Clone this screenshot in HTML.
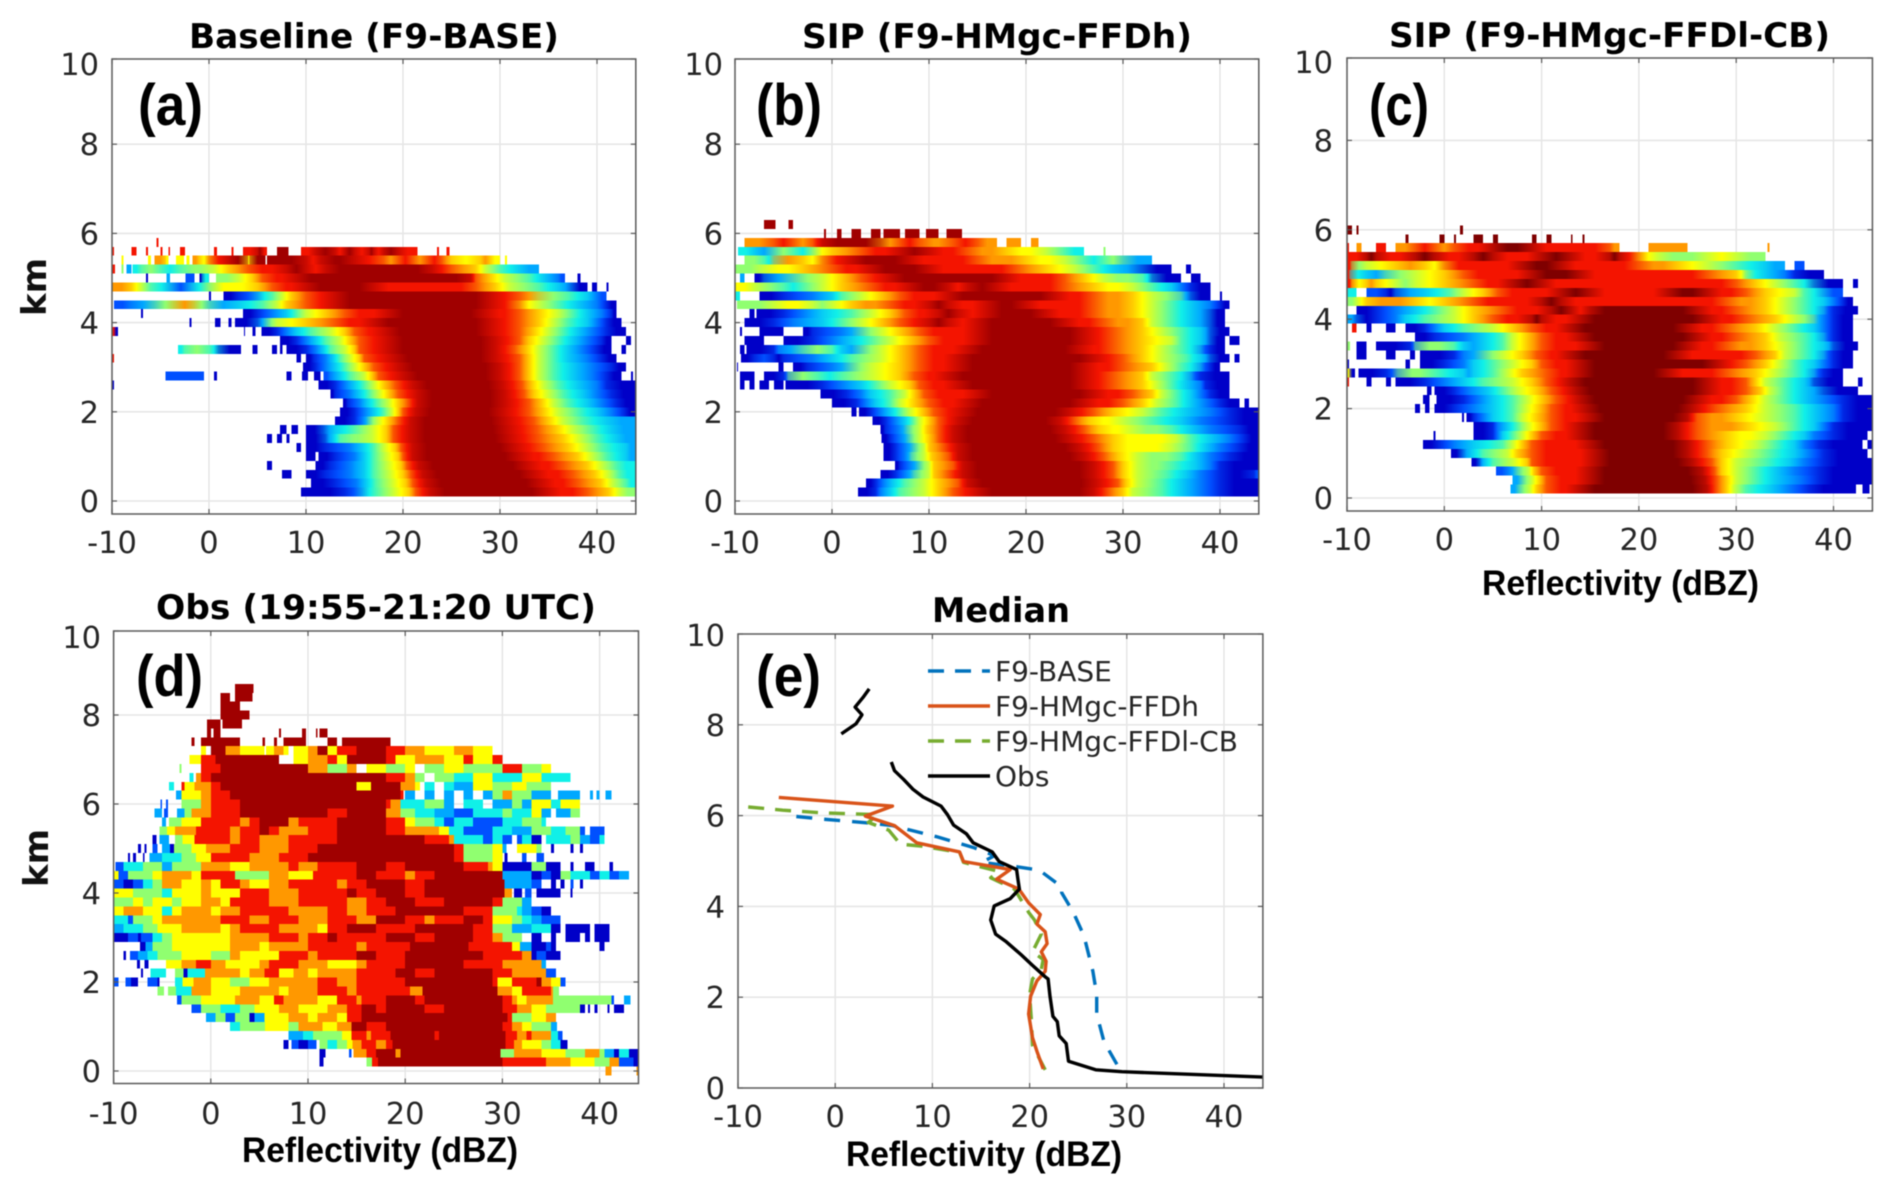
<!DOCTYPE html>
<html lang="en">
<head>
<meta charset="utf-8">
<title>Reflectivity CFADs</title>
<style>
html,body{margin:0;padding:0;background:#fff;}
#figure{display:block;width:1892px;height:1193px;filter:blur(0.6px);}
.tick{font-family:"DejaVu Sans","Liberation Sans",sans-serif;font-size:30.5px;fill:#262626;}
.title{font-family:"DejaVu Sans","Liberation Sans",sans-serif;font-weight:bold;font-size:34px;fill:#000;}
.xlabel{font-family:"Liberation Sans",sans-serif;font-weight:bold;font-size:35px;fill:#000;}
.ylabel{font-family:"DejaVu Sans","Liberation Sans",sans-serif;font-weight:bold;font-size:34px;fill:#111;}
.tag{font-family:"Liberation Sans",sans-serif;font-weight:bold;font-size:58px;fill:#000;}
.legend{font-family:"DejaVu Sans","Liberation Sans",sans-serif;font-size:28px;fill:#262626;}
</style>
</head>
<body>
<svg id="figure" xmlns="http://www.w3.org/2000/svg" width="1892" height="1193" viewBox="0 0 1892 1193">
  <defs id="gradients"></defs>
  <g id="layer-a"></g>
  <g id="layer-b"></g>
  <g id="layer-c"></g>
  <g id="layer-d"></g>
  <g id="layer-e"></g>

  <text class="title" x="189" y="48" textLength="370" lengthAdjust="spacingAndGlyphs">Baseline (F9-BASE)</text>
  <text class="title" x="802" y="48" textLength="390" lengthAdjust="spacingAndGlyphs">SIP (F9-HMgc-FFDh)</text>
  <text class="title" x="1389" y="47" textLength="441" lengthAdjust="spacingAndGlyphs">SIP (F9-HMgc-FFDl-CB)</text>
  <text class="title" x="156" y="619" textLength="440" lengthAdjust="spacingAndGlyphs">Obs (19:55-21:20 UTC)</text>
  <text class="title" x="932" y="622" textLength="138" lengthAdjust="spacingAndGlyphs">Median</text>

  <text class="tag" x="138" y="125" textLength="65" lengthAdjust="spacingAndGlyphs">(a)</text>
  <text class="tag" x="756" y="125" textLength="66" lengthAdjust="spacingAndGlyphs">(b)</text>
  <text class="tag" x="1369" y="125" textLength="60" lengthAdjust="spacingAndGlyphs">(c)</text>
  <text class="tag" x="136" y="696" textLength="67" lengthAdjust="spacingAndGlyphs">(d)</text>
  <text class="tag" x="756" y="696" textLength="65" lengthAdjust="spacingAndGlyphs">(e)</text>

  <text class="ylabel" transform="translate(46,316) rotate(-90)" textLength="58" lengthAdjust="spacingAndGlyphs">km</text>
  <text class="ylabel" transform="translate(48,887) rotate(-90)" textLength="58" lengthAdjust="spacingAndGlyphs">km</text>

  <text class="xlabel" x="1482" y="595" textLength="277" lengthAdjust="spacingAndGlyphs">Reflectivity (dBZ)</text>
  <text class="xlabel" x="242" y="1162" textLength="276" lengthAdjust="spacingAndGlyphs">Reflectivity (dBZ)</text>
  <text class="xlabel" x="846" y="1166" textLength="276" lengthAdjust="spacingAndGlyphs">Reflectivity (dBZ)</text>

  <g>
    <line x1="928" y1="671" x2="990" y2="671" stroke="#0072BD" stroke-width="3.4" stroke-dasharray="16 11"/>
    <text class="legend" x="995" y="681">F9-BASE</text>
    <line x1="928" y1="706" x2="990" y2="706" stroke="#D95319" stroke-width="3.4"/>
    <text class="legend" x="995" y="716">F9-HMgc-FFDh</text>
    <line x1="928" y1="741" x2="990" y2="741" stroke="#77AC30" stroke-width="3.4" stroke-dasharray="16 11"/>
    <text class="legend" x="995" y="751">F9-HMgc-FFDl-CB</text>
    <line x1="928" y1="776" x2="990" y2="776" stroke="#000" stroke-width="3.4"/>
    <text class="legend" x="995" y="786">Obs</text>
  </g>
</svg>
<script>
const xTicks = [-10, 0, 10, 20, 30, 40];
const yTicks = [0, 2, 4, 6, 8, 10];
const rowKm = [0,0.2,0.4,0.6,0.8,1,1.2,1.4,1.6,1.8,2,2.2,2.4,2.6,2.8,3,3.2,3.4,3.6,3.8,4,4.2,4.4,4.6,4.8,5,5.2,5.4,5.6,5.8,6,6.2,6.4,6.6,6.8,7,7.2,7.4,7.6,7.8,8,8.2,8.4,8.6];

/* Each row: start dBZ, colour level, start dBZ, colour level, ... final end dBZ. Level 0 = empty. */
const baselineRows = [
[],
[9.5,1,14,2,15.8,4,17.3,5,19,6,20.6,7,21.3,8,22.8,9,34.8,8,39,7,41.2,6,42.4,5,44],
[10.5,1,13,2,15.2,3,16.2,4,17.2,5,18.8,6,20.3,7,21,8,22.4,9,34.2,8,38,7,40.4,6,41.6,5,43,4,44],
[7.5,1,8.5,0,10,1,12,2,14.5,3,16,4,17,5,18.6,6,20,7,20.8,8,22,9,33.5,8,37.5,7,39.8,6,41.2,5,42.3,4,44],
[6,1,6.5,0,11,1,12.5,2,14.5,3,16,4,17,5,18.4,6,19.8,7,20.4,8,21.6,9,32.8,8,36.5,7,39,6,40.5,5,42,4,44],
[10,1,11,0,11.3,1,13,2,15,3,16,4,17,5,18.2,6,19.5,7,20,8,21,9,32,8,35.5,7,38,6,39.5,5,41,4,43,3,44],
[9,1,9.5,0,10,1,12,2,14.5,3,15.8,4,17,5,18,6,19.2,7,19.8,8,21,9,31.5,8,34.5,7,37,6,38.8,5,40.5,4,43,3,44],
[6,1,6.5,0,7,1,7.5,0,8,1,8.3,0,10,1,12,3,12.8,4,13.5,5,16.8,6,18.3,7,19,8,20.8,9,31,8,34,7,36.5,6,38.3,5,40,4,42,3,44],
[7.3,1,8,0,8.5,1,9.2,0,10,1,11.8,3,13,4,15,5,16.8,6,18.3,7,19,8,20.8,9,30.8,8,33.8,7,35.8,6,37.5,5,39.5,4,41.5,3,44],
[13,1,15,2,15.8,3,16.5,5,17.4,6,18.5,7,19.5,8,20.8,9,30.6,8,33.5,7,35,6,36.5,5,38.5,4,41,3,44],
[13.5,1,15,2,16,3,17,4,18,5,18.8,6,19.5,7,20,8,21.3,9,30.3,8,33,7,34.5,6,36,5,38,4,40,3,41.5,2,42.8,1,44],
[13.8,1,14.3,2,15.5,3,16.3,4,17.3,5,18.5,6,19.5,7,20.5,8,21.5,9,30.5,8,33,7,34.3,6,35.5,5,37,4,39,3,40.5,2,42,1,44],
[12.5,1,13,2,14.5,3,15.5,4,16.5,5,17.5,6,18.5,7,19.5,8,21.5,9,30.5,8,32.5,7,33.5,6,35,5,36.5,4,38.5,3,40,2,41.5,1,44],
[-10,1,-9.8,0,11.3,1,13,2,14,3,15,4,16,5,17,6,18,7,19.2,8,21,9,30.3,8,32.3,7,33.3,6,34.5,5,36,4,38,3,40,2,41,1,44],
[-4.5,2,-0.5,0,0.5,1,0.8,0,8,1,8.5,0,9.6,1,10.2,0,10.8,1,11.5,0,11.8,2,12.5,3,13.5,4,14.5,5,16,6,16.8,7,17.5,8,20,9,30,8,32,7,33,6,34,5,35.5,4,37.5,3,39.5,2,41,1,42.5,0,43.5,1,43.7,0],
[9.7,1,11,2,12,3,13,4,14,5,15,6,16,7,17,8,19.5,9,30,8,32,7,33,6,34,5,35.5,4,37.5,3,39.5,2,41.5,1,43,0],
[-10,8,-9.8,0,9,1,9.5,0,10,1,10.8,2,12,3,12.8,4,13.5,5,14.5,6,15.5,7,16,8,19,9,29.5,8,32,7,33,6,34,5,35.5,4,37,3,39,2,40.5,1,42,0],
[-3.2,4,-2.5,5,0,4,1,1,3.3,0,4.5,1,5,0,6.5,1,7,0,7.3,1,7.6,0,8,1,10,2,11,3,11.8,4,12.5,5,14,6,15,7,15.5,8,18.5,9,29.5,8,31.5,7,32.8,6,34,5,35.5,4,37,3,38.5,2,40,1,41.5,0,42.5,1,43,0],
[7.3,1,9,2,10,3,11,4,12,5,13.5,6,14.5,7,15.5,8,18.5,9,29.5,8,32,7,33,6,34.5,5,36,4,37.5,3,39,2,40.5,1,41.5,0,43,1,43.5,0],
[-10,8,-9.7,1,-9.4,0,3.6,1,3.7,0,4.5,1,4.8,0,5.4,1,7,2,8,3,9,4,10.5,5,12.5,6,14,7,15,8,18.2,9,29,8,32,7,33.5,6,35,5,36.5,4,38,3,39.5,2,41,1,43,0],
[-2,1,-1.8,0,0.6,1,1.2,0,2,1,2.3,0,2.7,1,5,3,6,5,7,6,10,7,13,8,17,9,29,8,32,7,34,6,35.5,5,37,4,39,3,40,2,41,1,42.5,0],
[-7,1,-6.8,0,3.5,1,5,2,6.5,3,8,4,9,5,10,6,12,7,14,8,18.5,9,28.5,8,32,7,34,6,36,5,37.5,4,39,3,40.5,2,41.5,1,42,0],
[-9.8,2,-8,3,-5.5,5,-3.5,7,-1.5,5,0,3,3,4,5.5,5,7,6,8,7,10,8,13,9,29,8,32,6,34,5,36,4,38,3,40,2,41,1,42,0],
[0,1,0.2,0,1.5,1,3,2,5,4,6.5,5,7.5,6,8.5,7,10,8,13,9,29,8,32,7,34,5,37,4,39,3,40,2,41,0],
[-10,7,-8,6,-7,5,-6,4,-3.8,2,-2,4,0,6,5,7,6.5,8,10,9,17,8,27.5,7,29.5,6,31,5,34,4,36,3,37.5,1,39,0,39.5,1,40,0,41,1,41.2,0],
[-6.5,1,-6.3,0,-4.4,3,-4,0,-2.4,2,-1.5,0,-1,1,-0.7,4,0,0,0.7,5,3,6,4.5,7,5.5,8,9,9,27,8,27.5,7,29,6,30.5,5,33,4,34.5,3,36,2,36.7,0,38,1,38.3,0],
[-10,8,-9.7,0,-9,5,-8.8,0,-8.5,3,-8,0,-7.9,4,-7,5,-5,4,-3,5,0.5,6,2,7,4,8,8,9,10,8,12,9,23,8,25,7,27.5,6,28.5,5,30,4,32,3,34,0],
[-9,6,-8.8,0,-6.3,6,-6,0,-5.6,7,-4.5,6,-4.2,0,-3.4,6,-2.6,0,-2.3,6,-2,0,-1.7,7,-1,6,0,8,2,9,4,6,4.2,9,5.8,0,6,9,10,8,11.5,9,15,8,18,7,19.5,8,21,7,22.5,8,24,7,25,6,28,7,29,6,30,0,30.5,6,30.7,0],
[-10,8,-9.8,0,-8,8,-7.5,0,-6.5,8,-6.3,0,-5,8,-4.8,0,-4.2,8,-4,0,-3,8,-2.5,0,0.5,8,0.8,0,2.3,8,2.5,0,3.5,8,5,9,5.5,8,6,0,7,9,8.2,0,9.5,8,11,9,13,8,14,9,15,8,16.5,9,17,8,18,9,19.5,8,21.5,0,23.5,8,23.7,0,24.5,8,24.8,0],
[-5.4,8,-5.2,0]
];

const ffdhRows = [
[],
[2.7,1,4.5,2,5,3,6,4,7,5,9.5,6,11,7,12.5,8,15,9,27,8,28.5,7,30,6,31,5,34,4,36,3,38,2,40,1,44],
[3.5,1,4.5,2,5.3,3,6.3,4,7.5,5,9.5,6,11,7,13,8,14,9,27.2,8,29.5,7,30.3,6,31.5,5,34,4,36,3,38,2,40,1,44],
[5,1,6.5,2,7.5,3,8.5,5,10,6,10.5,7,12,8,13.5,9,27,8,29,7,30,6,31.5,5,34.5,4,36.5,3,38,2,40,1,43.5,2,44],
[6.5,1,7,2,8,3,9,5,10,6,10.5,7,12.5,8,13.5,9,27,8,29,7,30,6,31.5,5,35,4,37.5,3,39,2,40,1,44],
[5.3,1,6.5,2,7.5,3,8.2,5,9.5,6,10.3,7,12,8,13,9,26,8,28,7,29.5,6,31.5,5,36,4,37.5,3,39,2,41,1,44],
[5.3,1,6.5,2,7.5,3,8.5,5,9.5,6,10,7,11.5,8,13,9,25.5,8,27.5,7,29,6,35,5,37,4,38.5,3,40,2,42,1,44],
[5.1,1,6,2,7,3,8,5,9,6,10,7,11,8,12.5,9,24.5,8,27,7,29,6,35.5,5,37,4,39,3,41,2,42.5,1,44],
[5,1,5.5,2,6.8,3,7.8,5,9,6,9.8,7,11,8,12.5,9,24,8,26,7,27.5,6,31,5,35,4,37,3,39,2,42,1,44],
[4.2,1,5.5,2,6.5,3,7.5,4,8.3,5,9,6,10,7,11,8,13,9,23.5,8,25,7,26.5,6,30,5,33,4,36,3,38,2,41,1,44],
[2,1,2.5,0,2.8,1,4,2,5,3,6,4,7,5,8,6,9.3,7,10.5,8,13.5,9,24.5,8,27,7,29,6,32,5,34,4,36.5,3,39,2,41,1,44],
[0,1,2.5,2,3.5,3,4.5,4,6,5,7,6,8.5,7,10,8,14,9,26,8,30,7,32,6,33.5,5,35.5,4,37,3,38.5,2,40,1,42,0,42.5,1,43,0],
[-1.2,1,1.5,2,3,3,4,4,6,5,7.5,6,8.5,7,9.5,8,15,9,27,8,31,7,33,6,34,5,35.5,4,37,3,38,2,39,1,41,0],
[-9.5,1,-9,0,-8.5,1,-8,0,-7.5,1,-6.5,0,-6,1,-5,0,-4.8,1,-1,2,1,3,3,4,4.5,5,6,6,8,7,9,8,13,9,26,8,29,7,32,6,33.5,5,35,4,36.5,3,38,2,38.5,1,41,0],
[-9.5,1,-8,0,-7,1,-5,2,-4.5,5,-1.5,4,1,5,4,6,7,7,8.5,8,12,9,26,8,29,7,32,6,33,5,35,4,37,2,38,1,41,0],
[-9.8,1,-9.7,0,-5.5,1,-5,0,-4,1,-2.5,2,0,3,2,5,4,6,7,7,9,8,13,9,26,8,30,7,33,6,34.5,5,36,4,38,2,39,1,40,0],
[-9.4,1,-8,2,-6,1,-5,2,-2,3,0,4,2,5,5,6,7,7,9,8,13,9,27,8,30,7,32,6,34,5,36.5,4,38,3,39,1,41,0,41.5,1,42,0],
[-9.5,1,-9,0,-8.8,1,-6,2,-5.5,3,-3,5,0,4,1,3,3,5,5,6,7,7,9,8,14,9,25.5,8,29,7,32,6,34,5,36,4,38,2,39,1,40.5,0],
[-9,1,-7,0,-5,1,-2,2,0,3,2,4,4,5,6,6,8,7,10,8,15,9,26,8,29,7,32,6,35,5,36,4,38,3,39,1,40.5,0,41,1,42,0],
[-9.5,1,-9.3,0,-7.5,1,-5,0,-3,1,-2,2,1,3,3,5,5,6,7,7,9,8,15,9,26,8,29,7,32,6,34,5,36,4,38,3,39,1,41,0],
[-9,1,-6,2,-4,3,-1,4,1,5,3,6,5,7,7,8,10,9,12,8,15,9,24,8,28,7,32,6,33,5,35,4,37,3,39,1,40.5,0],
[-8.5,1,-8,0,-7.8,1,-5,2,-3,3,-1,4,2,5,4,6,6,7,7.5,8,11,9,13,8,16,9,22,8,27,7,31,6,33,5,35,4,37,3,39,1,40.5,0],
[-9.8,5,-6,6,-2,5,0,6,2,7,6,8,10,9,12,8,16,9,20,8,27,7,31,6,33,5,35,4,37,3,39,2,40,1,41,0],
[-10,4,-9.5,0,-7.5,1,-5,2,-2,3,0,4,1,5,3,6,5,7,7,8,12,9,23,8,27,7,31,6,33,5,36,3,37,1,39,0,40,1,40.2,0],
[-10,6,-8,5,-5,4,-3,5,-1,6,1,7,4,8,8,9,12,8,14,9,17,8,24,7,27,6,31,5,33,4,35,3,36,2,37,1,39,0],
[-9.5,3,-9,0,-8,1,-7,3,-4,5,-1,6,1,7,3,8,6,9,18,8,24,7,26,6,28,5,32,4,33,1,36,0,37,1,38,0],
[-10,5,-7,6,-3,7,0,8,4,9,10,8,19,7,22,6,25,5,27,4,29,3,32,1,35,0,36.5,1,37,0],
[-9,5,-7,4,-6,7,-3,6,-1,8,2,9,8,8,15,7,20,6,24,5,26,4,28,5,30,3,33,0],
[-9.7,4,-8,3,-6,5,-4,4,-2,6,0,7,3,8,7,9,10,8,14,7,18,6,22,5,24,4,26,0,28,5,28.2,0],
[-9,7,-6,8,-4,7,-2,8,-1,9,5,7,7,8,9,7,12.5,8,15,7,17,0,18,7,19.5,0,20.5,7,21.3,0],
[-0.8,9,-0.6,0,0.5,9,1,0,2,9,3,0,4,9,5,0,5.3,9,7,0,7.5,9,9,0,9.7,9,11,0,11.8,9,13.4,0],
[-7,9,-5.8,0,-4.5,9,-4,0]
];

const ffdlRows = [
[],
[6.8,3,7.7,5,8.8,6,9.5,7,10.5,8,14,9,27,8,28,7,29,6,29.8,5,31,4,33.5,3,35.5,2,37.5,1,42.3,0,43,1,43.7,0],
[7,3,8,5,9,6,9.8,7,10.5,8,15,9,26.8,8,28,7,29,6,30,5,32,4,34,3,36.5,2,38.5,1,44],
[5.3,2,6.5,3,7.5,5,8.7,6,9.2,7,10,8,15,9,26.5,8,27.8,7,28.5,6,30,5,32,4,34,3,36,2,38.5,1,44],
[2.8,1,3.6,3,4.2,4,5,5,7,6,8.5,7,9,8,15.5,9,25.5,8,27.5,7,28.5,6,30,5,33,4,35.5,3,37,2,39,1,44],
[0.7,1,1.8,3,2.8,4,4,5,6.5,6,7.5,7,9,8,15.5,9,25,8,27,7,28.5,6,31,5,33.5,4,36,3,37.5,2,39,1,43.5,0],
[-2.2,1,-0.5,2,1,3,3,4,6,5,7,6,8,7,9,8,15,9,25,8,27,7,29,6,32,5,34,4,36,3,37,2,38.5,1,43,0,43.5,1,44],
[-1.1,1,-0.9,0,3,1,5,2,5.5,3,6,4,7,5,8,6,9,7,10,8,14,9,24,8,26,7,29,6,33,5,35,4,37,3,38,2,40,1,43.5,0],
[3,1,5,2,5.5,3,6.5,4,7.5,5,8.5,6,9.8,7,11,8,14,9,24,8,26,7,31,6,34,5,36,4,38,3,39,2,40,1,44],
[1.8,1,2,0,2.3,1,3,2,4,3,5,4,7,5,8,6,9.5,7,11,8,15,9,25,8,26,7,30,6,33,5,36,4,38,3,40,2,41,1,44],
[-3,1,-2.5,0,-2,1,-1.5,0,-1,1,1,2,3,3,5,4,7,5,8.3,6,9.7,7,11,8,14.5,9,25.5,8,28,7,31,6,33,5,36,4,38,3,40,2,41,1,44],
[-2.2,1,-1.5,0,-0.8,1,2,2,3.5,3,5,4,7,5,8.5,6,10,7,11.5,8,14,9,26,8,30,7,31.5,6,33,5,35,4,37,3,39,2,41,1,44],
[-1.8,1,-1.3,0,-1,1,1,2,2.5,3,4.5,4,6,5,7.5,6,9.5,7,11,8,13.5,9,27,8,31,7,32.5,6,33.5,5,35,4,37,3,39,1,42.5,0],
[-10,8,-9.8,0,-8,1,-7.5,0,-6,1,-5.5,0,-5,1,-2,2,0,3,2,4,4,5,7,6,9,7,10.5,8,13,9,27,8,31,7,32,6,33,5,35,4,37,3,38,1,41,0,42.5,1,43,0],
[-10,6,-9.7,1,-9.2,0,-8.8,1,-6,2,-4.8,5,-1,4,2,3,3,4,5,5,6.5,6,8,7,10.5,8,14,9,23,8,29,7,32,6,34,5,36,4,38,2,39,1,41,0],
[-10,1,-9.8,0,-4,1,-3.5,0,-2.5,1,0,2,2,3,3,4,5,5,7,6,9,7,10,8,14,9,28,8,31,7,33,6,34.5,5,36,4,38,3,39,2,40,1,42,0],
[-9,1,-8,0,-6,1,-5,0,-3.5,1,-3,0,-2.5,1,1,2,2,3,4,5,6,6,8,7,9.5,8,13,9,24,8,32,7,34,6,35,5,37,4,39,2,40,1,42,0],
[-10,5,-9.7,0,-9,1,-8,0,-7,1,-3.5,2,-3,5,1,4,2,3,4,4,6,5,7,6,8.5,7,10,8,15,9,25,8,29,7,33,6,35,5,37,4,39,3,40,1,42.5,0],
[-3,1,-1,2,2,3,4,4,6,5,7,6,8.5,7,10,8,14,9,26,8,30,7,33,6,34.5,5,37,4,39,2,40,1,42,0],
[-9.5,8,-9,0,-8,1,-7.5,0,-6,1,-5,0,-4,1,-2,2,-1,3,0,4,2,5,5,6,7,7,9,8,13,9,25,8,29,7,32,6,34,5,36,4,38,3,39,2,40,1,42,0],
[-10,3,-9,1,-7,2,-5,3,-4,4,-2,5,1,6,3,7,5,8,9,9,10,8,14,9,27,8,31,7,34,6,36,5,38,3,39,2,40,1,42,0],
[-9,1,-7,2,-5,3,-3,4,-1,5,1,6,3,7,6,8,11,9,13,8,15,9,26,8,30,7,33,6,35,5,37,4,39,2,40,1,42.5,0],
[-10,5,-9,6,-8,7,-3,6,0,7,3,8,10,9,12,8,29,7,33,6,35,5,37,4,39,3,40,2,41,1,42,0],
[-10,4,-9,0,-8,2,-6,1,-5,3,-2,4,0.5,5,2,6,4,7,5.5,8,12,9,15,8,23,9,27,8,31,7,33,6,36,5,37,4,39,2,41,0],
[-10,8,-9.5,6,-8,7,-7,6,-5,5,-3,6,0,7,3,8,7,9,10,8,30,7,32,6,34,5,36,4,38,1,41,0,42,1,42.5,0],
[-10,8,-9.7,4,-8,3,-6,5,-3,6,0,7,2,8,9,9,14,8,27,7,30,6,31,4,33,3,35,2,36,1,39,0],
[-10,8,-9.5,5,-8,6,-5,7,-2,6,0,8,8,9,12,8,20,7,24,6,27,5,30,4,33,3,35,0,36,2,37,0],
[-10,8,-8,9,-7,8,-3,9,-1,8,3,9,5,8,10,9,13,8,17,9,18,8,20,6,22,5,27,6,30,5,33,0],
[-10,8,-9.8,0,-9,7,-8.5,0,-7,8,-6,0,-5,7,-3,8,-1,7,1,8,5,9,9,8,17,7,18,0,21,7,25,0,33.2,7,33.4,0],
[-4,9,-3.7,0,-0.5,9,0,0,1,9,1.2,0,3,9,4,0,5,9,5.5,0,9,9,9.5,0,10.5,9,11,0,13,9,13.2,0,14.2,9,14.4,0],
[-10,9,-9.5,0,-9,9,-8.8,0,1.6,9,1.9,0]
];

const obsRows = [
[40.6,7,41.2,0,43.8,7,44,0],
[11.2,1,11.6,0,16,5,16.6,8,17.2,9,30,8,34.5,7,37,6,39.5,5,41,7,42,2,43.5,1,44],
[11.2,1,11.8,0,14.2,2,14.5,0,14.7,7,16,8,17,9,19,7,19.5,9,29.8,5,31.2,7,34,6,36.5,5,38.5,7,40,5,40.5,3,41.5,1,42,4,43,1,44],
[7.5,1,8,0,8.3,2,9,1,10,2,10.9,0,11.2,5,12,4,13,5,14,6,14.6,7,15.5,8,17,7,18,8,18.7,9,30.3,8,31.2,7,32,6,34,5,35,4,36,1,36.7,0],
[8,3,9.5,4,10.5,5,13.5,6,14.5,8,16,7,16.5,8,18.5,9,23,8,23.5,9,30.3,8,31.5,7,32.5,8,33,7,35,4,35.7,2,36.2,0],
[2,4,3,5,5.6,6,8,5,9,7,11.5,6,13,7,14.5,9,16,8,18,9,30,8,31,7,32,6,33,5,35,3,35.6,0],
[-0.5,3,0.5,5,1.5,2,2.5,5,4,1,4.5,3,5.5,6,8,7,10,6,11,7,13,6,14,8,15.5,9,30.5,8,31,5,33,6,34.5,7,35.5,0],
[-2,2,-1,5,1,4,3,5,4.5,6,7,7,9,6,12,7,14,8,15.5,9,17,8,18,9,22,8,24,9,30,8,31.5,7,33,6,34.5,5,38,1,38.5,0,38.8,1,39,0,39.5,1,39.8,0,40.8,1,41,0,41.5,1,42.5,0],
[-3.5,2,-3,5,-1,6,2.5,7,5,6,6.5,8,7.5,7,11,6,13,8,15,7,15.5,8,18,9,21,8,22,9,30,8,31,7,31.5,6,32.5,7,35.2,5,41.2,2,41.5,0,42.5,3,43.2,0],
[-5.5,5,-4.8,0,-4.4,5,-3.6,4,-2,7,0,6,3,7,7,6,8,7,11,8,14,7,15,8,20.5,7,21.8,9,29.5,7,31,6,32,8,35,7,35.2,5,35.8,0],
[-10,2,-9.5,0,-8.8,2,-8.2,1,-7.5,0,-6.5,2,-5.5,1,-5.3,0,-3.7,4,-2.9,6,-1.8,7,0,6,2,5,4,6,6,7,11,8,13,7,15,8,20,9,29,8,29.5,6,31,8,33.5,9,34,7,35,6,36,2,36.5,0],
[-7.2,1,-7,0,-6.2,4,-4.6,0,-3.7,5,-2.8,1,-2.4,4,-0.6,7,3,6,4,7,5.5,8,7,6,8.5,7,10,6,11,7,15,8,19,9,21,8,23,9,29,8,31,7,34.5,2,35.5,0],
[-7.6,1,-7.3,0,-6.8,1,-6.4,0,-4.6,6,-3,7,-1.5,8,0,7,1.5,6,5,7,6,8,9,7,12,6,15,7,16,8,20,9,26,8,30,7,34,3,34.5,0],
[-9,1,-8.7,0,-8.3,2,-7.5,3,-6.5,4,-5.5,5,-3,6,0,5,2,7,3,6,7,8,10,7,11,8,15,9,17,8,20,9,28,8,32,7,33,1,33.5,2,34.5,1,36,0],
[-7.3,1,-6.7,3,-6,5,-4,6,2,7,5,6,6,7,10,8,15,7,16,8,20.5,9,26.5,8,31,6,31.8,3,33,1,34.5,2,35,1,35.5,0,40,1,40.5,0],
[-10,1,-8.5,2,-7.5,1,-7.2,2,-6,4,-5,5,-4,6,2,7,6,8,9,7,10,8,12,9,13,8,18,9,21,8,23,9,27,8,29,7,30,5,32,0,33,1,34,0,35,1,35.5,0,36.5,1,38,0,38.5,1,39,0,39.5,1,41,0],
[-10,3,-9,4,-7,5,-5.5,6,-3,7,1,6,2,7,3,8,7,7,11,6,12,8,14,9,17,8,21,9,27,8,29,5,31,3,33,4,35,1,36,0,36.5,1,39,0,39.5,1,41,0],
[-10,4,-8.5,2,-8,5,-6,6,-5,7,1,8,4,7,6,8,9,7,12,8,15,7,17,9,20,8,22,7,23,8,26,9,28,8,29,6,31,5,32,4,33,3,34,2,36,0],
[-10,6,-9,7,-7,6,-5,4,-4,6,-3,7,0,6,1,7,3,8,8,7,12,8,14,7,16,8,19,9,26,8,29,5,31.5,4,32,3,33,2,34,1,35,0],
[-10,5,-8,6,-7,5,-6,6,-4,5,-3,6,-1,7,1,6,2,8,6,7,9,8,14,7,16,8,18,9,21,8,24,9,29,8,30,5,32,3,33,0],
[-10,6,-8,5,-5,4,-4,6,-1,7,0,6,3,8,6,7,9,8,14,9,15,8,17,9,20,8,22,9,30.2,7,31,0,31.2,1,32,0,32.3,2,33,0,33.5,1,36,0,37,1,37.2,0],
[-10,2,-9,1,-8,2,-7,4,-6,5,-5,7,-3,6,-1,7,0,6,1,8,3,7,4,6,6,7,8,8,13,7,14,8,16,9,20,8,22,9,30.2,3,33,2,34,0,35,1,35.5,0,36,1,36.4,0,37,2,37.3,0,38,1,38.3,0],
[-10,6,-9.5,2,-8.5,5,-6,6,-5,7,-2,6,-1,8,2.5,5,6,7,8,6,10.5,8,15,9,17,8,20,7,21,8,23,9,30,3,33,1,34,2,35,1,36,5,37,4,39,2,40,4,41,2,42,3,43,0],
[-9.8,2,-9,4,-7,5,-5,3,-4,5,-1,7,2,6,4,7,8,8,9,7,11,8,15,9,18,8,20,9,26,8,28.5,7,29,6,30,1,33,5,34.5,1,36,0,37,1,37.3,0,38.5,1,39.5,0,41,1,41.4,0],
[-8.5,1,-8.3,0,-8,1,-7.7,0,-7,1,-6.8,0,-6.3,3,-5,4,-3,5,-1.5,6,0,8,4,7,7,8,10,9,25,8,26,5,29,6,30,0,30.2,1,30.5,0,32,2,32.5,0,33.5,2,34.3,0],
[-7.5,1,-7.2,0,-6.8,1,-6.6,0,-6,2,-5.5,0,-5,3,-4.2,1,-3.8,5,-2,6,-0.5,7,2,8,5,7,8,8,11,9,25,8,26,5,29,6,30,3,30.4,0,31.5,6,33.5,5,34,0,35,1,35.3,0,37,1,37.3,0,38,1,38.3,0],
[-6,1,-5.6,0,-5.3,3,-4.3,0,-3.7,5,-2.9,6,-1.7,8,2,7,3,8,5,7,8,8,13,9,22,8,24.5,7,25,4,28,2,29,4,30,2,31,0,31.5,2,32,4,33,1,34,0,34.5,4,37,5,38,3,39,2,40,4,40.5,0],
[-5.3,5,-4.5,6,-3.7,7,-1.5,8,2,7,3,8,5,9,6,8,7,7,10,8,13,9,18,8,20,7,23.5,6,24.5,4,26,2,29,4,31,3,33,5,35,4,36.5,5,38,2,38.5,0,39,2,40.5,0],
[-5,3,-4.6,0,-4.3,5,-3,6,-1,8,3,7,4,8,5,9,8,7,9,8,13,9,18,8,20,6,21,5,23,4,24,2,25,4,27,2,30,4,32,5,34,4,34.5,0],
[-5.8,3,-5,0,-4.8,2,-4.4,0,-3.5,3,-2.7,5,-2,7,0,8,3,9,12,8,14,9,18,7,19.5,5,21,4,23,3,25,2,27,4,30,5,31,4,33,6,34,3,35,0,35.5,3,37,5,38,0],
[-5.2,2,-5,0,-4.6,2,-4.4,0,-3,5,-1,7,0,8,3,9,18,8,18.5,7,19.5,4,22,5,24,3,25,0,26,4,28,0,29,3,31,5,32,3,33,6,35,4,36,6,38,0],
[-3.6,3,-3,6,-1,7,0,8,2,9,19.5,8,19.8,0,20,3,21,0,22,3,23,0,24,3,25,0,26,3,27,0,28,3,29,5,30,7,31,5,33,3,35,0,35.7,3,38,0,39,3,39.3,0,39.7,3,40,0,40.6,3,41.2,0],
[-4.3,4,-3.8,0,-3,8,-2.7,6,-1.7,7,0,8,1,9,15,6,16.5,9,19.5,7,21,6,21.5,0,22,4,23,0,24,4,25,3,27,6,29,5,31,6,32.5,5,35,0],
[-2.2,4,-1.8,0,-1.5,7,-1,8,0,9,18,8,20,7,21,5,22,0,23,5,25,4,27,6,29,4,32,6,34,4,37,0],
[-3.2,5,-3,0,-1,8,1,9,10,7,12,5,14,7,15,0,16,6,18,5,20,6,21,0,22,5,24,6,26,5,30,8,32,5,34,6,35,0],
[-2.2,6,-1,8,0.5,9,7,0,8.5,6,10,7,12,8,13,6,14,9,18,8,19,6,21,7,24,6,26,8,27,6,29,8,30,0],
[-1,6,-0.5,0,0,9,1.5,7,3,6,5.5,0,5.7,6,6.5,7,7.5,6,8,0,8.5,6,10,7,11,9,12,6,13,8,15,9,18,8,20,7,22,6,25,7,27,6,29,0],
[-2,9,-1.7,0,-1,9,3,0,5.3,9,5.6,0,6.5,9,6.8,0,7.5,9,9.8,0,12,9,13,0,13.5,9,18.5,0],
[-0.4,9,0,0,0.3,9,1,0,7,9,7.2,0,9.4,9,9.8,0,10.8,9,11,0,11.2,9,12,0],
[-0.4,9,1,0,1.2,9,3.2,0],
[1,9,4,0],
[1,9,3,0],
[1,9,2,0,2.5,9,4.3,0],
[2.5,9,4.4,0]
];

const baseDbz = [-4,-1.2,1.7,3.8,5.9,10.5,14.3,16.4,15.1,18.45,21,23.3,23.3,24.5,25.6,26.2,26.5,26.9,26.9,27.65,29.3];
const baseKm = [5.98,5.92,5.87,5.83,5.78,5.53,5.29,5.12,4.97,4.88,4.8,4.43,4.3,3.87,3.35,2.83,2.58,2.06,1.63,1.02,0.4];
const ffdhDbz = [-5.8,5.9,3.1,6.1,8.4,12.8,13.2,18,16.6,18.9,19.9,21.1,20.75,21.6,21.8,21.2,21.7,21.6,20.75,20.1,19.9,20.3,20.75,21.4];
const ffdhKm = [6.4,6.21,5.99,5.78,5.4,5.2,4.99,4.81,4.6,4.38,4.08,3.82,3.61,3.44,3.18,3,2.79,2.57,2.36,2.02,1.63,1.11,0.81,0.42];
const ffdlDbz = [-8.95,-5.4,-1.2,4.4,3.4,5.5,6.7,8.8,12.8,13.2,16.8,16,18.45,19.9,20.5,21.2,20.3,21.4,21.2,20.3,20,20.2,20.3,21.6];
const ffdlKm = [6.19,6.12,6.06,6.02,5.85,5.68,5.37,5.33,5.19,4.97,4.77,4.63,4.38,3.87,3.7,3.39,3,2.83,2.62,2.4,2.06,1.46,0.94,0.4];
const obsUpperDbz = [3.5,2.85,2.05,2.76,2.13,0.63];
const obsUpperKm = [8.79,8.6,8.39,8.22,8.02,7.8];
const obsLowerDbz = [5.77,6.1,7.03,8,9.04,10.9,11.55,12.18,13.5,14.2,16.15,16.86,18.66,18.8,18.95,18,16.36,16,16.5,17.6,19.1,20.3,21.6,21.9,22.1,22.4,22.85,23.05,23.77,24,26.8,29.5,44];
const obsLowerKm = [7.18,6.99,6.8,6.58,6.41,6.21,6.02,5.79,5.6,5.4,5.2,4.99,4.81,4.6,4.38,4.17,4.01,3.7,3.39,3.22,2.94,2.7,2.45,2.4,2.02,1.58,1.46,1.15,0.98,0.59,0.4,0.36,0.24];

const levelColors = ['none','#0000c8','#0050ff','#00a8ff','#10f0e8','#90ff70','#ffff00','#ff9800','#f41400','#a00000'];
const SVGNS = 'http://www.w3.org/2000/svg';
let gradientCount = 0;

function makePanel(id, x0, pxPerDbz, yZero, pxPerKm, top, bottom, xLabelY, yLabelRight, tenLabelY, deepRed, smooth) {
  return {id, x0, pxPerDbz, yZero, pxPerKm, top, bottom, xLabelY, yLabelRight, tenLabelY, deepRed, smooth};
}
function xAt(p, dbz) { return p.x0 + (dbz + 10) * p.pxPerDbz; }
function yAt(p, km) { return p.yZero - km * p.pxPerKm; }
function levelColor(p, level) { return level === 9 && p.deepRed ? p.deepRed : levelColors[level]; }
function mix(a, b) {
  let out = '#';
  for (let k = 1; k < 7; k += 2) {
    const v = Math.round((parseInt(a.substr(k, 2), 16) + parseInt(b.substr(k, 2), 16)) / 2);
    out += (v < 16 ? '0' : '') + v.toString(16);
  }
  return out;
}

function drawAxes(p) {
  const g = document.getElementById('layer-' + p.id);
  const left = xAt(p, -10), right = xAt(p, 44);
  xTicks.forEach(function (t) {
    const x = xAt(p, t);
    if (t > -10) {
      const gl = document.createElementNS(SVGNS, 'line');
      
      
      gl.setAttribute('x1', x); gl.setAttribute('x2', x);
      gl.setAttribute('y1', p.top); gl.setAttribute('y2', p.bottom);
      gl.setAttribute('stroke', '#e2e2e2'); gl.setAttribute('stroke-width', '1.3');
      g.appendChild(gl);
    }
    const lb = document.createElementNS(SVGNS, 'text');
    
    
    lb.setAttribute('class', 'tick');
    lb.setAttribute('x', x); lb.setAttribute('y', p.xLabelY);
    lb.setAttribute('text-anchor', 'middle');
    lb.textContent = String(t);
    g.appendChild(lb);
  });
  yTicks.forEach(function (t) {
    const y = Math.max(yAt(p, t), p.top);
    if (t < 10 && !(t === 0 && p.id === 'e')) {
      const gl = document.createElementNS(SVGNS, 'line');
      
      
      gl.setAttribute('x1', left); gl.setAttribute('x2', right);
      gl.setAttribute('y1', y); gl.setAttribute('y2', y);
      gl.setAttribute('stroke', '#e6e6e6'); gl.setAttribute('stroke-width', '1.6');
      g.appendChild(gl);
    }
    const lb = document.createElementNS(SVGNS, 'text');
    
    
    lb.setAttribute('class', 'tick');
    lb.setAttribute('x', p.yLabelRight);
    lb.setAttribute('y', (t === 10 ? p.tenLabelY : yAt(p, t)) + 11);
    lb.setAttribute('text-anchor', 'end');
    lb.textContent = String(t);
    g.appendChild(lb);
  });
}

function drawFrame(p) {
  const g = document.getElementById('layer-' + p.id);
  const left = xAt(p, -10), right = xAt(p, 44);
  const box = document.createElementNS(SVGNS, 'rect');
  
  
  box.setAttribute('x', left); box.setAttribute('y', p.top);
  box.setAttribute('width', right - left); box.setAttribute('height', p.bottom - p.top);
  box.setAttribute('fill', 'none'); box.setAttribute('stroke', '#5a5a5a'); box.setAttribute('stroke-width', '1.5');
  g.appendChild(box);
  xTicks.forEach(function (t) {
    const x = xAt(p, t);
    [[p.bottom, p.bottom - 5], [p.top, p.top + 5]].forEach(function (e) {
      const tk = document.createElementNS(SVGNS, 'line');
      
      
      tk.setAttribute('x1', x); tk.setAttribute('x2', x);
      tk.setAttribute('y1', e[0]); tk.setAttribute('y2', e[1]);
      tk.setAttribute('stroke', '#5a5a5a'); tk.setAttribute('stroke-width', '1.2');
      g.appendChild(tk);
    });
  });
  yTicks.forEach(function (t) {
    const y = Math.max(yAt(p, t), p.top);
    [[left, left + 5], [right, right - 5]].forEach(function (e) {
      const tk = document.createElementNS(SVGNS, 'line');
      
      
      tk.setAttribute('x1', e[0]); tk.setAttribute('x2', e[1]);
      tk.setAttribute('y1', y); tk.setAttribute('y2', y);
      tk.setAttribute('stroke', '#5a5a5a'); tk.setAttribute('stroke-width', '1.2');
      g.appendChild(tk);
    });
  });
}

function shadeCell(p, row, i) {
  const level = row[i + 1];
  const base = levelColor(p, level);
  const prev = i >= 2 ? row[i - 1] : 0;
  const next = row[i + 3] || 0;
  if (!p.smooth || (!prev && !next)) return base;
  const width = row[i + 2] - row[i];
  const edge = Math.min(0.5, 1.5 / width);
  const grad = document.createElementNS(SVGNS, 'linearGradient');
  const gid = 'shade-' + (gradientCount++);
  grad.setAttribute('id', gid);
  const stops = [
    [0, prev ? mix(base, levelColor(p, prev)) : base],
    [edge, base],
    [1 - edge, base],
    [1, next ? mix(base, levelColor(p, next)) : base]
  ];
  stops.forEach(function (s) {
    const st = document.createElementNS(SVGNS, 'stop');
    st.setAttribute('offset', s[0]);
    st.setAttribute('stop-color', s[1]);
    grad.appendChild(st);
  });
  document.getElementById('gradients').appendChild(grad);
  return 'url(#' + gid + ')';
}

function drawHeat(p, rows) {
  const g = document.getElementById('layer-' + p.id);
  rows.forEach(function (row, r) {
    const km = rowKm[r];
    const yTop = yAt(p, km + 0.1), yBot = yAt(p, km - 0.1);
    for (let i = 0; i + 2 < row.length; i += 2) {
      const level = row[i + 1];
      if (!level || row[i + 2] <= row[i]) continue;
      const cell = document.createElementNS(SVGNS, 'rect');
      
      
      cell.setAttribute('x', xAt(p, row[i]));
      cell.setAttribute('y', yTop);
      cell.setAttribute('width', (row[i + 2] - row[i]) * p.pxPerDbz);
      cell.setAttribute('height', yBot - yTop);
      cell.setAttribute('shape-rendering', 'crispEdges');
      cell.setAttribute('fill', shadeCell(p, row, i));
      g.appendChild(cell);
    }
  });
}

function drawLine(p, dbz, km, color, dash, name) {
  const g = document.getElementById('layer-' + p.id);
  const pts = dbz.map(function (d, i) { return xAt(p, d).toFixed(1) + ',' + yAt(p, km[i]).toFixed(1); }).join(' ');
  const pl = document.createElementNS(SVGNS, 'polyline');
  
  
  pl.setAttribute('points', pts);
  pl.setAttribute('fill', 'none');
  pl.setAttribute('stroke', color);
  pl.setAttribute('stroke-width', '3.4');
  pl.setAttribute('stroke-linejoin', 'round');
  if (dash) pl.setAttribute('stroke-dasharray', dash);
  g.appendChild(pl);
}

const panelA = makePanel('a', 112, 9.7, 501, 44.6, 59, 514, 553, 99, 64, null, true);
const panelB = makePanel('b', 735, 9.7, 501, 44.6, 59, 514, 553, 723, 64, null, true);
const panelC = makePanel('c', 1347, 9.73, 498, 44.7, 58, 511, 550, 1333, 62, '#7f0000', true);
const panelD = makePanel('d', 113.6, 9.72, 1071, 44.5, 631, 1083.5, 1124, 101, 637, null, false);
const panelE = makePanel('e', 738, 9.72, 1088, 45.4, 634, 1088, 1127, 725, 635, null, false);

[panelA, panelB, panelC, panelD, panelE].forEach(drawAxes);
drawHeat(panelA, baselineRows);
drawHeat(panelB, ffdhRows);
drawHeat(panelC, ffdlRows);
drawHeat(panelD, obsRows);
drawLine(panelE, baseDbz, baseKm, '#0072BD', '16 12', 'median-line-f9-base');
drawLine(panelE, ffdlDbz, ffdlKm, '#77AC30', '16 11', 'median-line-f9-hmgc-ffdl-cb');
drawLine(panelE, ffdhDbz, ffdhKm, '#D95319', null, 'median-line-f9-hmgc-ffdh');
drawLine(panelE, obsUpperDbz, obsUpperKm, '#000000', null, 'median-line-obs-upper');
drawLine(panelE, obsLowerDbz, obsLowerKm, '#000000', null, 'median-line-obs-lower');
[panelA, panelB, panelC, panelD, panelE].forEach(drawFrame);
</script>
</body>
</html>
